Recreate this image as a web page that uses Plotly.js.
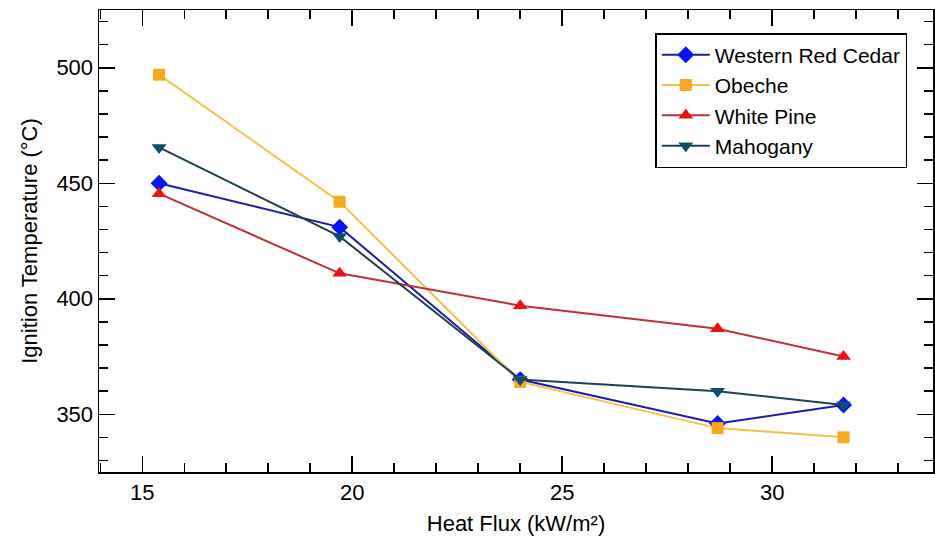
<!DOCTYPE html>
<html>
<head>
<meta charset="utf-8">
<script src="https://cdn.plot.ly/plotly-3.0.1.min.js"></script>
<style>html,body{margin:0;padding:0;background:#fff;}#chart{width:935px;height:538px;}</style>
</head>
<body>
<div id="chart"></div>
<script>
const heatFlux = [15.4, 19.7, 24.0, 28.7, 31.7];
const westernRedCedar = [450, 431, 365, 346, 354];
const obeche = [497, 442, 364, 344, 340];
const whitePine = [445.5, 411, 397, 387, 375];
const mahogany = [465.5, 427, 365, 360, 354];
const seriesNames = ["Western Red Cedar", "Obeche", "White Pine", "Mahogany"];

const styles = [
  {line: '#1c1ca8', marker: '#0a14f0', symbol: 'diamond', size: 13},
  {line: '#f2c24a', marker: '#f7a81c', symbol: 'square', size: 12},
  {line: '#c0303a', marker: '#f01010', symbol: 'triangle-up', size: 13},
  {line: '#1d4254', marker: '#0f4d6e', symbol: 'triangle-down', size: 13}
];
const values = [westernRedCedar, obeche, whitePine, mahogany];

const traces = values.map((v, i) => ({
  x: heatFlux, y: v, name: seriesNames[i], type: 'scatter', mode: 'lines+markers',
  line: {color: styles[i].line, width: 2},
  marker: {color: styles[i].marker, symbol: styles[i].symbol, size: styles[i].size, line: {width: 0}}
}));

const fam = 'Liberation Sans, Arial, sans-serif';
const font = {family: fam, size: 22, color: '#000'};
const layout = {
  width: 935, height: 538,
  margin: {l: 99, r: 2, t: 10, b: 66},
  paper_bgcolor: '#fff', plot_bgcolor: '#fff',
  font: font,
  showlegend: true,
  legend: {x: 0.667, y: 0.95, xanchor: 'left', yanchor: 'top', bgcolor: '#fff', bordercolor: '#000', borderwidth: 1.5,
    font: {family: fam, size: 21, color: '#000'}, traceorder: 'normal', itemwidth: 48},
  xaxis: {
    range: [13.97, 33.83], tickmode: 'array', tickvals: [15, 20, 25, 30],
    ticks: 'inside', ticklen: 16, tickwidth: 1.5, tickcolor: '#000',
    minor: {ticks: 'inside', ticklen: 9, dtick: 1, tick0: 0, tickwidth: 1.5, tickcolor: '#000'},
    showline: true, linecolor: '#000', linewidth: 1.5, mirror: 'allticks',
    showgrid: false, zeroline: false,
    tickfont: {family: fam, size: 22, color: '#000'},
    title: {text: 'Heat Flux (kW/m²)', font: {family: fam, size: 22, color: '#000'}, standoff: 11}
  },
  yaxis: {
    range: [325, 525], tickmode: 'array', tickvals: [350, 400, 450, 500],
    ticks: 'inside', ticklen: 16, tickwidth: 1.5, tickcolor: '#000',
    minor: {ticks: 'inside', ticklen: 9, dtick: 10, tick0: 0, tickwidth: 1.5, tickcolor: '#000'},
    showline: true, linecolor: '#000', linewidth: 1.5, mirror: 'allticks',
    showgrid: false, zeroline: false,
    tickfont: {family: fam, size: 22, color: '#000'}, ticklabelstandoff: 0,
    title: {text: 'Ignition Temperature (°C)', font: {family: fam, size: 22, color: '#000'}, standoff: 12}
  }
};
Plotly.newPlot('chart', traces, layout, {displayModeBar: false, staticPlot: true});
</script>
</body>
</html>
